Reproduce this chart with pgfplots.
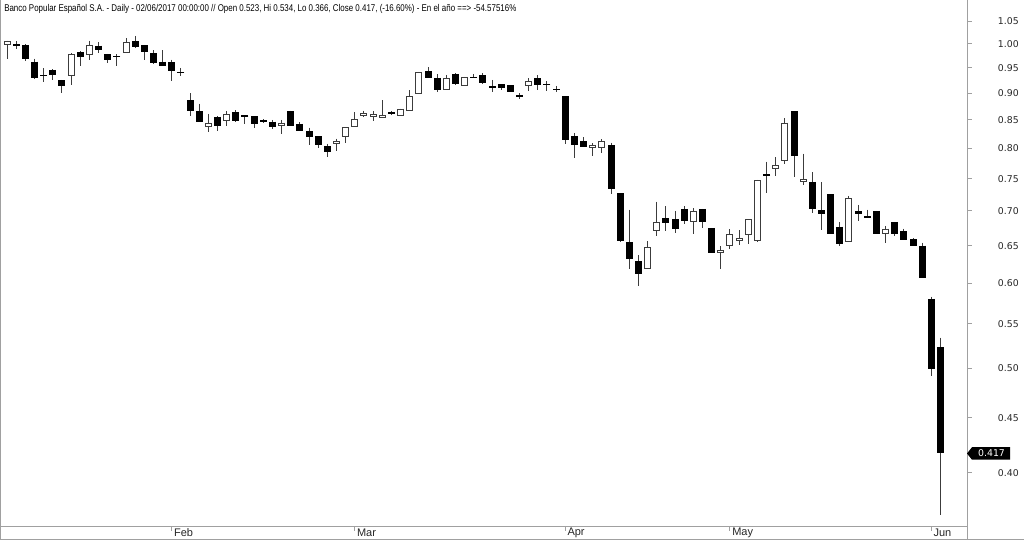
\documentclass[border=0pt]{standalone}
\usepackage{pgfplots}
\pgfplotsset{compat=1.18}
\usepackage{pgfplotstable}
\usepackage{fontspec}
\setmainfont{Liberation Sans}
\newfontfamily\titlefont[FakeStretch=0.81]{Liberation Sans}
\newfontfamily\tickfont{DejaVu Sans}
\definecolor{wick}{RGB}{60,60,60}
\definecolor{framec}{RGB}{160,160,160}
\pgfplotstableread{
i open high low close
0 0.997 1.007 0.969 1.006
1 0.998 1.006 0.989 0.998
2 0.998 0.999 0.965 0.969
3 0.963 0.969 0.927 0.929
4 0.935 0.949 0.922 0.935
5 0.946 0.947 0.925 0.936
6 0.925 0.926 0.901 0.914
7 0.933 0.980 0.916 0.978
8 0.983 0.984 0.953 0.973
9 0.976 1.007 0.967 0.998
10 0.996 1.003 0.981 0.986
11 0.978 0.979 0.960 0.967
12 0.973 0.978 0.953 0.973
13 0.981 1.012 0.981 1.004
14 1.006 1.017 0.991 0.993
15 0.997 0.998 0.966 0.983
16 0.980 0.986 0.958 0.960
17 0.963 0.986 0.953 0.953
18 0.961 0.967 0.923 0.944
19 0.941 0.950 0.933 0.941
20 0.887 0.900 0.858 0.867
21 0.866 0.880 0.846 0.846
22 0.837 0.861 0.829 0.844
23 0.856 0.857 0.831 0.839
24 0.848 0.866 0.839 0.860
25 0.864 0.868 0.846 0.848
26 0.857 0.857 0.843 0.857
27 0.857 0.857 0.836 0.843
28 0.848 0.851 0.845 0.848
29 0.847 0.850 0.834 0.837
30 0.840 0.850 0.825 0.845
31 0.866 0.867 0.839 0.840
32 0.843 0.846 0.831 0.831
33 0.830 0.836 0.806 0.819
34 0.821 0.821 0.800 0.805
35 0.804 0.808 0.786 0.794
36 0.807 0.817 0.795 0.812
37 0.820 0.837 0.809 0.837
38 0.838 0.864 0.838 0.851
39 0.857 0.867 0.855 0.862
40 0.856 0.866 0.849 0.860
41 0.853 0.887 0.853 0.859
42 0.864 0.866 0.859 0.861
43 0.857 0.871 0.857 0.871
44 0.866 0.906 0.866 0.894
45 0.898 0.942 0.898 0.942
46 0.944 0.951 0.930 0.930
47 0.930 0.937 0.903 0.906
48 0.906 0.936 0.906 0.929
49 0.938 0.939 0.915 0.917
50 0.914 0.932 0.914 0.932
51 0.932 0.938 0.929 0.929
52 0.935 0.939 0.917 0.919
53 0.912 0.926 0.903 0.912
54 0.917 0.917 0.907 0.911
55 0.915 0.915 0.902 0.902
56 0.897 0.900 0.889 0.893
57 0.914 0.929 0.905 0.923
58 0.929 0.935 0.907 0.915
59 0.917 0.923 0.905 0.917
60 0.907 0.914 0.903 0.907
61 0.894 0.894 0.808 0.815
62 0.821 0.827 0.783 0.805
63 0.812 0.819 0.803 0.803
64 0.800 0.809 0.788 0.806
65 0.800 0.816 0.792 0.812
66 0.806 0.810 0.725 0.733
67 0.727 0.727 0.655 0.656
68 0.655 0.702 0.618 0.632
69 0.629 0.637 0.596 0.612
70 0.619 0.656 0.619 0.648
71 0.670 0.714 0.663 0.684
72 0.689 0.707 0.670 0.682
73 0.688 0.700 0.667 0.674
74 0.703 0.707 0.680 0.685
75 0.684 0.704 0.666 0.700
76 0.703 0.703 0.675 0.683
77 0.675 0.675 0.640 0.640
78 0.640 0.649 0.619 0.644
79 0.649 0.673 0.645 0.666
80 0.656 0.672 0.651 0.661
81 0.665 0.688 0.652 0.688
82 0.656 0.748 0.655 0.747
83 0.756 0.778 0.727 0.756
84 0.765 0.785 0.754 0.772
85 0.779 0.853 0.774 0.845
86 0.866 0.866 0.752 0.787
87 0.744 0.791 0.740 0.749
88 0.745 0.760 0.697 0.703
89 0.701 0.744 0.672 0.696
90 0.725 0.725 0.666 0.666
91 0.677 0.683 0.650 0.652
92 0.655 0.723 0.655 0.719
93 0.700 0.709 0.685 0.695
94 0.692 0.702 0.690 0.690
95 0.700 0.700 0.666 0.666
96 0.666 0.678 0.654 0.674
97 0.684 0.684 0.663 0.666
98 0.670 0.674 0.658 0.658
99 0.659 0.660 0.649 0.649
100 0.650 0.654 0.607 0.607
101 0.580 0.583 0.492 0.499
102 0.523 0.534 0.366 0.417
}\data
\pgfplotsset{
  nomark/.style={mark=none, draw=none},
}
\begin{document}
\begin{tikzpicture}
\path[use as bounding box] (0,-11.25pt) rectangle (768pt,394.5pt);
\begin{axis}[
  at={(0,0)}, anchor=south west,
  scale only axis, width=725.25pt, height=394.5pt,
  xmin=-0.77, xmax=104.9,
  ymode=log, ymin=0.3572, ymax=1.0982,
  axis x line*=bottom, axis y line*=right,
  axis line style={draw=framec, line width=0.75pt, -},
  xtick pos=bottom, ytick pos=right, yticklabel pos=right,
  xtick={18,38,61,79,101},
  xticklabels={Feb,Mar,Apr,May,Jun},
  ytick={0.40,0.45,0.50,0.55,0.60,0.65,0.70,0.75,0.80,0.85,0.90,0.95,1.00,1.05},
  yticklabels={0.40,0.45,0.50,0.55,0.60,0.65,0.70,0.75,0.80,0.85,0.90,0.95,1.00,1.05},
  yminorticks=false, xminorticks=false,
  tick align=outside, major tick length=3.5pt,
  tick style={draw=framec, line width=0.75pt},
  ticklabel style={text=black!85},
  xticklabel style={font=\fontsize{8.25pt}{10pt}\selectfont, anchor=west, inner sep=0pt, xshift=1.5pt, yshift=-1.5pt},
  yticklabel style={font=\tickfont\fontsize{7pt}{9pt}\selectfont, anchor=west, inner sep=0pt, xshift=19.5pt},
]
% wicks
\addplot[nomark,
  error bars/.cd, y dir=minus, y explicit, error mark=none,
  error bar style={line width=0.75pt, draw=wick}]
  table[x=i, y=high, y error minus expr=\thisrow{high}-\thisrow{low}] {\data};
% black bodies
\addplot[nomark,
  error bars/.cd, y dir=minus, y explicit, error mark=none,
  error bar style={line width=5.25pt, draw=black}]
  table[x=i, y expr={\thisrow{open}>\thisrow{close} ? \thisrow{open} : nan},
        y error minus expr=\thisrow{open}-\thisrow{close}] {\data};
% white bodies: outline
\addplot[nomark,
  error bars/.cd, y dir=minus, y explicit, error mark=none,
  error bar style={line width=5.25pt, draw=wick}]
  table[x=i, y expr={\thisrow{close}>\thisrow{open} ? \thisrow{close} : nan},
        y error minus expr=\thisrow{close}-\thisrow{open}] {\data};
% white bodies: interior
\addplot[nomark,
  error bars/.cd, y dir=minus, y explicit, error mark=none,
  error bar style={line width=3.75pt, draw=white, shorten <=0.75pt, shorten >=0.75pt}]
  table[x=i, y expr={\thisrow{close}>\thisrow{open} ? \thisrow{close} : nan},
        y error minus expr=\thisrow{close}-\thisrow{open}] {\data};
% doji bars
\addplot[only marks, mark=-, mark size=2.625pt, mark options={line width=1.1pt, draw=black}]
  table[x=i, y expr={\thisrow{close}==\thisrow{open} ? \thisrow{close} : nan}] {\data};
\coordinate (tag) at (axis cs:104.9,0.417);
\end{axis}
\draw[framec, line width=0.75pt] (0.375pt,-10.5pt) -- (0.375pt,394.5pt);
\draw[framec, line width=0.75pt] (0,-10.5pt) -- (768pt,-10.5pt);
\draw[framec, line width=0.75pt] (725.25pt,-10.5pt) -- (725.25pt,0);
\fill[black] (tag) -- ++(3.75pt,4.7pt) -- ++(28.5pt,0) -- ++(0,-9.4pt) -- ++(-28.5pt,0) -- cycle;
\node[text=white, inner sep=0pt, font=\tickfont\fontsize{7pt}{9pt}\selectfont] at ([xshift=18.4pt]tag) {0.417};
\node[anchor=base west, inner sep=0pt, font=\titlefont\fontsize{7.35pt}{9pt}\selectfont] at (3pt,385.7pt)
  {Banco Popular Español S.A. - Daily - 02/06/2017 00:00:00 // Open 0.523, Hi 0.534, Lo 0.366, Close 0.417, (-16.60\%) - En el año ==> -54.57516\%};
\end{tikzpicture}
\end{document}
